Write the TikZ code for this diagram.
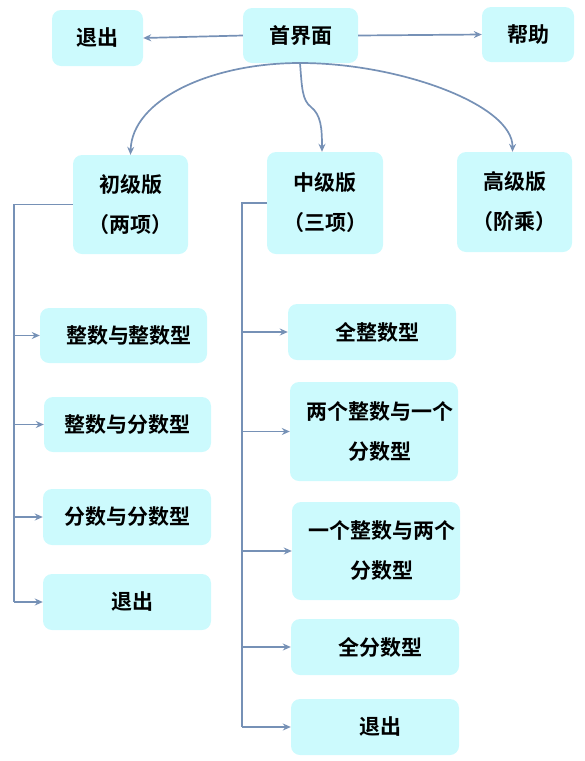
\documentclass[tikz,border=0pt]{standalone}
\usepackage{fontspec}
\setmainfont{Noto Sans CJK SC}[BoldFont={* Bold}]
\usetikzlibrary{arrows.meta}
\definecolor{boxfill}{RGB}{204,250,253}
\definecolor{linkc}{RGB}{118,145,182}
\newcommand{\sh}{\hspace*{11pt}}
\tikzset{
  x=1pt, y=-1pt,
  bx/.style={fill=boxfill, rounded corners=9pt, inner sep=0pt, align=center,
    font=\bfseries\fontsize{21}{40}\selectfont},
  lk/.style={draw=linkc, line width=1.7pt, -{Stealth[length=8pt,width=7pt]}},
  ln/.style={draw=linkc, line width=1.7pt}
}
\begin{document}
\begin{tikzpicture}
\useasboundingbox (0,0) rectangle (585,761);
% top row
\node[bx, minimum width=91pt, minimum height=56pt] (quit0) at (97.5,38) {退出};
\node[bx, minimum width=115pt, minimum height=55pt] (home) at (300.5,35.5) {首界面};
\node[bx, minimum width=92pt, minimum height=55pt] (help) at (528,34.5) {帮助};
% levels
\node[bx, minimum width=115pt, minimum height=99pt] (p) at (130.5,204.5) {初级版\\（两项）};
\node[bx, minimum width=116pt, minimum height=102pt] (m) at (325,203) {中级版\\（三项）};
\node[bx, minimum width=115pt, minimum height=100pt] (a) at (514.5,202) {高级版\\（阶乘）};
% left column
\node[bx, minimum width=167pt, minimum height=55pt] (p1) at (123.5,335.5) {\sh{}整数与整数型};
\node[bx, minimum width=167pt, minimum height=55pt] (p2) at (127.5,424.5) {整数与分数型};
\node[bx, minimum width=168pt, minimum height=56pt] (p3) at (127,517) {分数与分数型};
\node[bx, minimum width=168pt, minimum height=56pt] (p4) at (127,602) {\sh{}退出};
% middle column
\node[bx, minimum width=168pt, minimum height=56pt] (m1) at (372,332) {\sh{}全整数型};
\node[bx, minimum width=168pt, minimum height=99pt] (m2) at (374,431.5) {\sh{}两个整数与一个\\\sh{}分数型};
\node[bx, minimum width=168pt, minimum height=98pt] (m3) at (376,551) {\sh{}一个整数与两个\\\sh{}分数型};
\node[bx, minimum width=168pt, minimum height=56pt] (m4) at (375,647) {\sh{}全分数型};
\node[bx, minimum width=168pt, minimum height=56pt] (m5) at (375,727) {\sh{}退出};
% top connectors
\draw[lk] (home.west) -- (quit0.east);
\draw[lk] (home.east) -- (help.west);
\coordinate (hs) at (300,63);
\draw[lk] (hs) .. controls (210,63) and (132,100) .. (p.north);
\draw[lk] (hs) .. controls (302,88) and (302,100) .. (311,107) .. controls (321,115) and (322,128) .. ([xshift=-3pt]m.north);
\draw[lk] (hs) .. controls (400,63) and (513,105) .. ([xshift=-2pt]a.north);
% left tree
\coordinate (lt) at (14,204.5);
\coordinate (lb) at (14,602);
\draw[ln] (p.west) -- (lt) -- (lb);
\draw[lk] (lt |- p1.west) -- (p1.west);
\draw[lk] (lt |- p2.west) -- (p2.west);
\draw[lk] (lt |- p3.west) -- (p3.west);
\draw[lk] (lt |- p4.west) -- (p4.west);
% middle tree
\coordinate (mt) at (242,203);
\coordinate (mb) at (242,727);
\draw[ln] (m.west) -- (mt) -- (mb);
\draw[lk] (mt |- m1.west) -- (m1.west);
\draw[lk] (mt |- m2.west) -- (m2.west);
\draw[lk] (mt |- m3.west) -- (m3.west);
\draw[lk] (mt |- m4.west) -- (m4.west);
\draw[lk] (mt |- m5.west) -- (m5.west);
\end{tikzpicture}
\end{document}
